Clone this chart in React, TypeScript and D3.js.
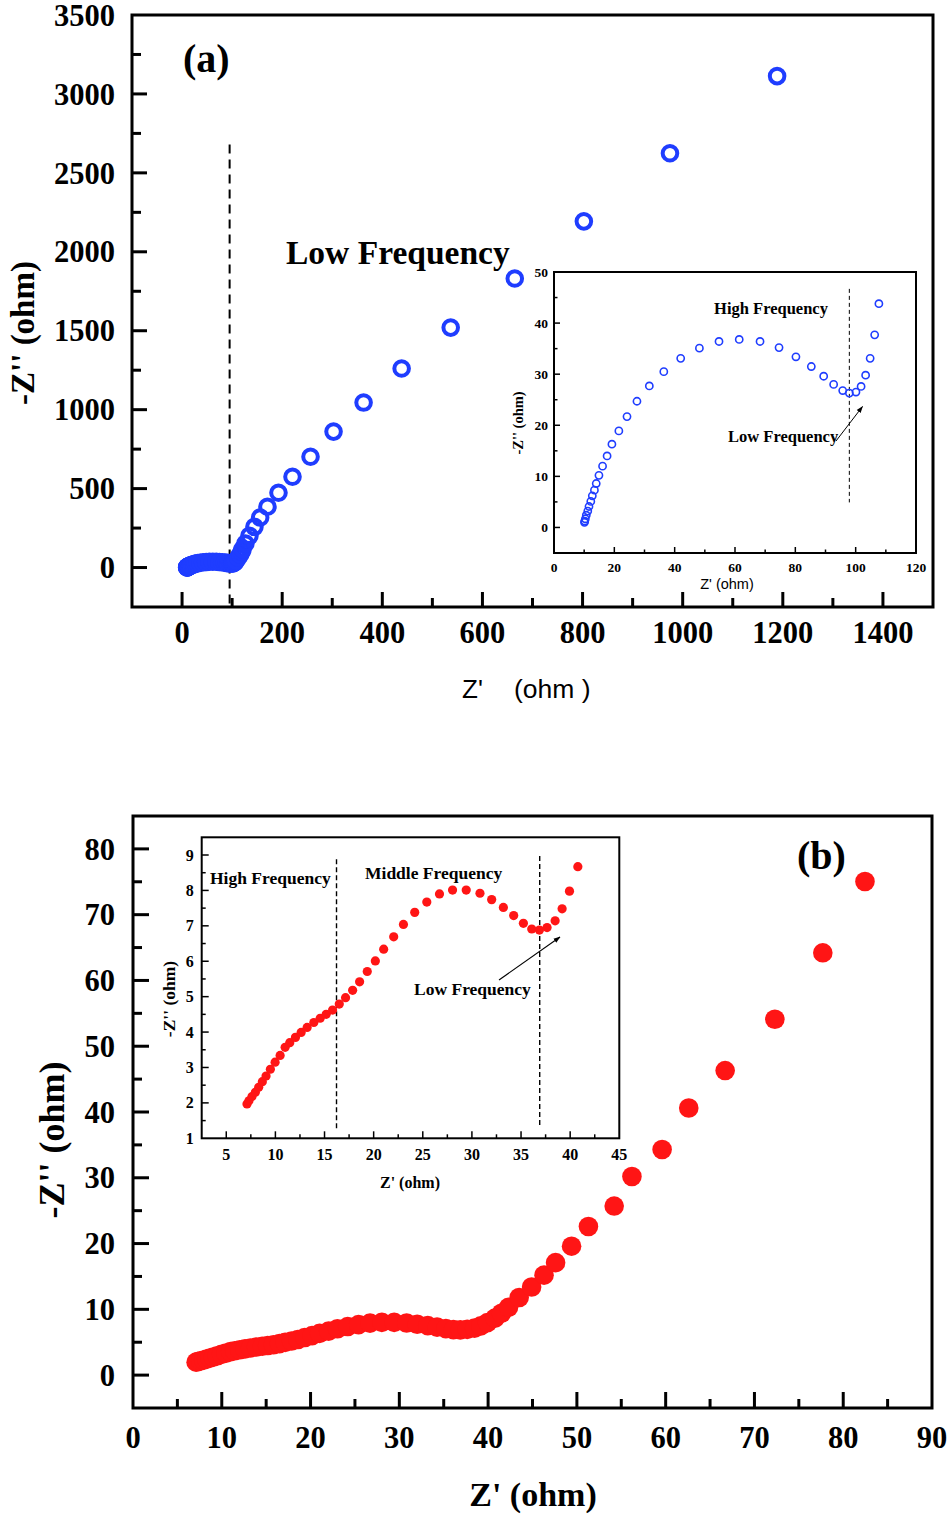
import React from "react";
import * as d3 from "d3";

// ---------- DATA ----------
// Panel (a): inset / low-Z' region (open blue circles)
const aInRe = [10.1, 10.2, 10.4, 10.7, 11.2, 11.6, 12.2, 12.7, 13.4, 14.0, 14.9, 16.1, 17.6, 19.2, 21.5, 24.2, 27.5, 31.6, 36.4, 42.0, 48.2, 54.7, 61.4, 68.3, 74.6, 80.2, 85.3, 89.4, 92.7, 95.7, 97.9, 100.1, 101.8, 103.3, 104.8, 106.3, 107.7];
const aInIm = [1.0, 1.25, 1.7, 2.4, 3.2, 4.1, 5.1, 6.2, 7.3, 8.6, 10.2, 12.0, 14.0, 16.3, 18.9, 21.7, 24.7, 27.7, 30.5, 33.1, 35.1, 36.4, 36.8, 36.4, 35.2, 33.4, 31.5, 29.6, 28.0, 26.8, 26.3, 26.5, 27.6, 29.8, 33.1, 37.7, 43.8];
// Panel (a): low-frequency tail
const aTailRe = [112, 116, 119, 121, 126.6, 134.6, 144.6, 156, 170.6, 192.6, 220.6, 256.6, 302.6, 362.6, 438.6, 536.6, 664.6, 802.6, 974.6, 1188.6];
const aTailIm = [62, 82, 100, 117, 152, 201, 258, 317, 385, 474, 575, 702, 861, 1045, 1261, 1520, 1831, 2193, 2624, 3113];

// Panel (b): inset / low-Z' region (filled red circles)
const bInRe = [7.11, 7.31, 7.62, 7.96, 8.30, 8.67, 9.05, 9.49, 9.97, 10.48, 10.99, 11.46, 12.04, 12.62, 13.23, 13.91, 14.56, 15.17, 15.82, 16.50, 17.14, 17.86, 18.57, 19.35, 20.17, 21.02, 22.04, 23.03, 24.18, 25.41, 26.70, 28.03, 29.42, 30.82, 32.01, 33.20, 34.25, 35.24, 36.09, 36.87, 37.65, 38.47, 39.18, 39.93, 40.78];
const bInIm = [1.97, 2.06, 2.18, 2.30, 2.44, 2.60, 2.76, 2.95, 3.15, 3.34, 3.57, 3.70, 3.85, 3.99, 4.13, 4.27, 4.39, 4.50, 4.62, 4.79, 4.97, 5.18, 5.42, 5.71, 6.01, 6.34, 6.69, 7.04, 7.38, 7.67, 7.90, 8.01, 8.01, 7.92, 7.74, 7.52, 7.29, 7.07, 6.91, 6.88, 6.95, 7.14, 7.48, 7.98, 8.67];
// Panel (b): low-frequency tail
const bTailRe = [41.5, 42.3, 43.5, 44.9, 46.3, 47.6, 49.4, 51.3, 54.2, 56.2, 59.6, 62.6, 66.7, 72.3, 77.7, 82.45];
const bTailIm = [9.4, 10.3, 11.8, 13.4, 15.2, 17.1, 19.6, 22.6, 25.7, 30.2, 34.3, 40.6, 46.3, 54.1, 64.2, 75.05];

// Tick values
const aXTicks = [0, 200, 400, 600, 800, 1000, 1200, 1400];
const aYTicks = [0, 500, 1000, 1500, 2000, 2500, 3000, 3500];
const aInXTicks = [0, 20, 40, 60, 80, 100, 120];
const aInYTicks = [0, 10, 20, 30, 40, 50];
const bXTicks = [0, 10, 20, 30, 40, 50, 60, 70, 80, 90];
const bYTicks = [0, 10, 20, 30, 40, 50, 60, 70, 80];
const bInXTicks = [5, 10, 15, 20, 25, 30, 35, 40, 45];
const bInYTicks = [1, 2, 3, 4, 5, 6, 7, 8, 9];

// Dashed boundaries (Z' values)
const aMainDash = 95;
const aInDash = 97.9;
const bInDashes = [16.22, 36.9];

const SERIF = "'Times New Roman', 'Liberation Serif', serif";
const SANS = "Arial, 'Liberation Sans', sans-serif";
const BLUE = "#1f3dff";
const RED = "#ff1515";

type Sc = d3.ScaleLinear<number, number>;

function minorsBetween(major: number[], step: number, dom: number[]) {
  const out: number[] = [];
  const lo = Math.min(dom[0], dom[1]);
  const hi = Math.max(dom[0], dom[1]);
  for (let v = lo; v <= hi + 1e-9; v += step) {
    const vv = +v.toFixed(6);
    if (vv <= lo + 1e-9 || vv >= hi - 1e-9) continue;
    if (major.some((m) => Math.abs(m - vv) < 1e-9)) continue;
    out.push(vv);
  }
  return out;
}

function Frame(props: {
  x: Sc; y: Sc; xt: number[]; yt: number[]; xMinorStep: number; yMinorStep: number;
  frameW: number; tickW: number; major: number; minor: number;
  font: number; xLabelDy: number; yLabelDx: number; fill?: string;
}) {
  const { x, y, xt, yt, frameW, tickW, major, minor, font } = props;
  const [x0, x1] = x.range();
  const [y0, y1] = y.range(); // y0 bottom, y1 top
  const xMin = minorsBetween(xt, props.xMinorStep, x.domain());
  const yMin = minorsBetween(yt, props.yMinorStep, y.domain());
  return (
    <g>
      <rect x={x0} y={y1} width={x1 - x0} height={y0 - y1} fill={props.fill || "none"} stroke="#000" strokeWidth={frameW} />
      {xt.filter((v) => x(v) > x0 + 1 && x(v) < x1 - 1).map((v) => (
        <line key={"xm" + v} x1={x(v)} x2={x(v)} y1={y0} y2={y0 - major} stroke="#000" strokeWidth={tickW} />
      ))}
      {xMin.map((v) => (
        <line key={"xn" + v} x1={x(v)} x2={x(v)} y1={y0} y2={y0 - minor} stroke="#000" strokeWidth={tickW} />
      ))}
      {yt.filter((v) => y(v) < y0 - 1 && y(v) > y1 + 1).map((v) => (
        <line key={"ym" + v} x1={x0} x2={x0 + major} y1={y(v)} y2={y(v)} stroke="#000" strokeWidth={tickW} />
      ))}
      {yMin.map((v) => (
        <line key={"yn" + v} x1={x0} x2={x0 + minor} y1={y(v)} y2={y(v)} stroke="#000" strokeWidth={tickW} />
      ))}
      {xt.map((v) => (
        <text key={"xl" + v} x={x(v)} y={y0 + props.xLabelDy} textAnchor="middle" fontFamily={SERIF} fontWeight="bold" fontSize={font}>{v}</text>
      ))}
      {yt.map((v) => (
        <text key={"yl" + v} x={x0 - props.yLabelDx} y={y(v)} dy="0.35em" textAnchor="end" fontFamily={SERIF} fontWeight="bold" fontSize={font}>{v}</text>
      ))}
    </g>
  );
}

export default function App() {
  // Panel (a)
  const ax = d3.scaleLinear().domain([-100, 1500]).range([132, 933]);
  const ay = d3.scaleLinear().domain([-250, 3500]).range([607, 15]);
  const aix = d3.scaleLinear().domain([0, 120]).range([554, 916]);
  const aiy = d3.scaleLinear().domain([-5, 50]).range([553, 272]);
  // Panel (b)
  const bx = d3.scaleLinear().domain([0, 90]).range([133, 932]);
  const by = d3.scaleLinear().domain([-5, 85]).range([1408, 816]);
  const bix = d3.scaleLinear().domain([2.5, 45]).range([201.7, 619.3]);
  const biy = d3.scaleLinear().domain([1, 9.5]).range([1138.3, 837.3]);

  const aAllRe = aInRe.concat(aTailRe);
  const aAllIm = aInIm.concat(aTailIm);
  const bAllRe = bInRe.concat(bTailRe);
  const bAllIm = bInIm.concat(bTailIm);

  return (
    <svg width={950} height={1517} style={{ position: "absolute", left: 0, top: 0, background: "#fff" }}>
      <defs>
        <marker id="arr" viewBox="0 0 10 10" refX="9" refY="5" markerWidth="7" markerHeight="7" orient="auto" markerUnits="userSpaceOnUse">
          <path d="M0,1.5 L10,5 L0,8.5 Z" fill="#000" />
        </marker>
      </defs>
      <rect x={0} y={0} width={950} height={1517} fill="#fff" />

      {/* ================= Panel (a) ================= */}
      <Frame x={ax} y={ay} xt={aXTicks} yt={aYTicks} xMinorStep={100} yMinorStep={250}
        frameW={3} tickW={3} major={15} minor={9} font={30.5} xLabelDy={36} yLabelDx={17} />
      <line x1={ax(aMainDash)} x2={ax(aMainDash)} y1={ay(2680)} y2={ay(-250)} stroke="#000" strokeWidth={2} strokeDasharray="9,6" />
      {aAllRe.map((v, i) => (
        <circle key={"ma" + i} cx={ax(v)} cy={ay(aAllIm[i])} r={7.3} fill="none" stroke={BLUE} strokeWidth={4} />
      ))}
      <text x={183} y={72} fontFamily={SERIF} fontWeight="bold" fontSize={40}>(a)</text>
      <text x={286} y={264} fontFamily={SERIF} fontWeight="bold" fontSize={33.5}>Low Frequency</text>
      <text x={462} y={698} fontFamily={SANS} fontSize={26}>Z'</text>
      <text x={514} y={698} fontFamily={SANS} fontSize={26.5}>(ohm )</text>
      <text transform="translate(34,333) rotate(-90)" textAnchor="middle" fontFamily={SERIF} fontWeight="bold" fontSize={33}>-Z'' (ohm)</text>

      {/* Inset (a) */}
      <Frame x={aix} y={aiy} xt={aInXTicks} yt={aInYTicks} xMinorStep={10} yMinorStep={5}
        frameW={2} tickW={1.5} major={6} minor={3.5} font={13.5} xLabelDy={19} yLabelDx={6} fill="#fff" />
      <line x1={aix(aInDash)} x2={aix(aInDash)} y1={aiy(46.7)} y2={aiy(4.9)} stroke="#000" strokeWidth={1} strokeDasharray="4,3" />
      {aInRe.map((v, i) => (
        <circle key={"ia" + i} cx={aix(v)} cy={aiy(aInIm[i])} r={3.6} fill="none" stroke={BLUE} strokeWidth={1.6} />
      ))}
      <text x={771} y={314} textAnchor="middle" fontFamily={SERIF} fontWeight="bold" fontSize={16.5}>High Frequency</text>
      <text x={728} y={442} fontFamily={SERIF} fontWeight="bold" fontSize={16.5}>Low Frequency</text>
      <line x1={836} y1={441} x2={862.5} y2={406.5} stroke="#000" strokeWidth={1} markerEnd="url(#arr)" />
      <text x={727} y={589} textAnchor="middle" fontFamily={SANS} fontSize={14.5}>Z' (ohm)</text>
      <text transform="translate(523,423) rotate(-90)" textAnchor="middle" fontFamily={SERIF} fontWeight="bold" fontSize={14.5}>-Z'' (ohm)</text>

      {/* ================= Panel (b) ================= */}
      <Frame x={bx} y={by} xt={bXTicks} yt={bYTicks} xMinorStep={5} yMinorStep={5}
        frameW={3} tickW={3} major={16} minor={9} font={30.5} xLabelDy={40} yLabelDx={18} />
      {bAllRe.map((v, i) => (
        <circle key={"mb" + i} cx={bx(v)} cy={by(bAllIm[i])} r={9.8} fill={RED} />
      ))}
      <text x={797} y={869} fontFamily={SERIF} fontWeight="bold" fontSize={40}>(b)</text>
      <text x={533} y={1506} textAnchor="middle" fontFamily={SERIF} fontWeight="bold" fontSize={34}>Z' (ohm)</text>
      <text transform="translate(64,1140) rotate(-90)" textAnchor="middle" fontFamily={SERIF} fontWeight="bold" fontSize={36}>-Z'' (ohm)</text>

      {/* Inset (b) */}
      <Frame x={bix} y={biy} xt={bInXTicks} yt={bInYTicks} xMinorStep={2.5} yMinorStep={0.5}
        frameW={2} tickW={1.5} major={7} minor={4} font={16} xLabelDy={22} yLabelDx={8} fill="#fff" />
      {bInDashes.map((v, i) => (
        <line key={"bd" + i} x1={bix(v)} x2={bix(v)} y1={biy(i === 0 ? 8.88 : 8.97)} y2={biy(i === 0 ? 1.28 : 1.35)} stroke="#000" strokeWidth={1.4} strokeDasharray="5,3" />
      ))}
      {bInRe.map((v, i) => (
        <circle key={"ib" + i} cx={bix(v)} cy={biy(bInIm[i])} r={4.6} fill={RED} />
      ))}
      <text x={210} y={884} fontFamily={SERIF} fontWeight="bold" fontSize={17.5}>High Frequency</text>
      <text x={365} y={879} fontFamily={SERIF} fontWeight="bold" fontSize={17.5}>Middle Frequency</text>
      <text x={414} y={995} fontFamily={SERIF} fontWeight="bold" fontSize={17.5}>Low Frequency</text>
      <line x1={499} y1={980} x2={560} y2={937} stroke="#000" strokeWidth={1.1} markerEnd="url(#arr)" />
      <text x={410} y={1188} textAnchor="middle" fontFamily={SERIF} fontWeight="bold" fontSize={16}>Z' (ohm)</text>
      <text transform="translate(175,999) rotate(-90)" textAnchor="middle" fontFamily={SERIF} fontWeight="bold" fontSize={17.5}>-Z'' (ohm)</text>
    </svg>
  );
}
